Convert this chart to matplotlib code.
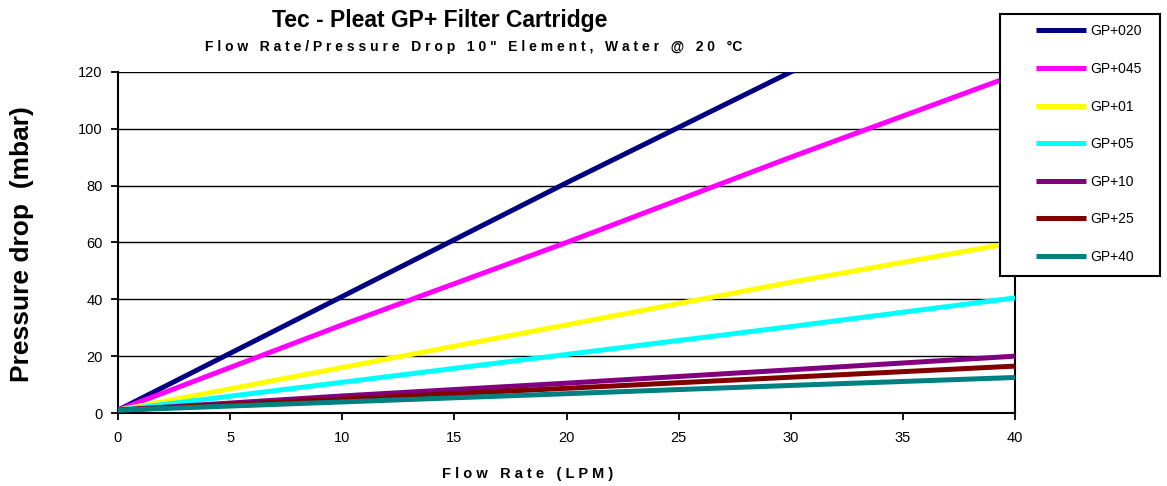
import matplotlib
matplotlib.use('Agg')
import matplotlib.pyplot as plt
from matplotlib.patches import Rectangle

plt.rcParams['font.family'] = ['Liberation Sans', 'DejaVu Sans']

# flow rate in LPM and pressure drop in mbar per grade
flow = [0, 10, 20, 30, 40]
series = {
    'GP+020': [1, 41, 81, 120, 160],
    'GP+045': [1, 31, 60, 90, 119],
    'GP+01': [1, 16, 31, 46, 60],
    'GP+05': [1, 10.8, 20.6, 30.4, 40.5],
    'GP+10': [1, 6, 10.5, 15.2, 20],
    'GP+25': [1, 4.9, 8.7, 12.6, 16.5],
    'GP+40': [1, 3.9, 6.8, 9.7, 12.5],
}
colours = ['#000080', '#FF00FF', '#FFFF00', '#00FFFF', '#800080', '#800000', '#008080']
x_ticks = [0, 5, 10, 15, 20, 25, 30, 35, 40]
y_ticks = [0, 20, 40, 60, 80, 100, 120]

fig = plt.figure(figsize=(11.67, 4.86), dpi=100)
ax = fig.add_axes([0.1011, 0.1502, 0.7687, 0.7017])

for (name, vals), c in zip(series.items(), colours):
    ax.plot(flow, vals, color=c, lw=3.6, label=name, solid_capstyle='butt', zorder=3)

ax.set_xlim(0, 40)
ax.set_ylim(0, 120)
ax.set_xticks(x_ticks)
ax.set_yticks(y_ticks)
ax.grid(axis='y', color='black', lw=1)
ax.set_axisbelow(True)
for s in ax.spines.values():
    s.set_linewidth(1.5)
ax.spines['top'].set_visible(False)
ax.tick_params(direction='out', length=5, width=1.3, labelsize=10.5, pad=6)
ax.tick_params(axis='x', pad=8)

fig.text(0.452, 0.025, 'F l o w   R a t e   ( L P M )', ha='center', va='center',
         fontsize=10.5, fontweight='bold')
fig.text(0.019, 0.498, 'Pressure drop  (mbar)', ha='center', va='center',
         rotation=90, fontsize=19, fontweight='bold')

fig.text(0.377, 0.957, 'Tec - Pleat GP+ Filter Cartridge', ha='center', va='center',
         fontsize=16.5, fontweight='bold')
fig.text(0.406, 0.903, 'F l o w   R a t e / P r e s s u r e   D r o p   1 0 "   E l e m e n t ,   W a t e r   @   2 0   \u00b0C',
         ha='center', va='center', fontsize=10, fontweight='bold')

# legend box
fig.patches.append(Rectangle((0.8569, 0.4321), 0.1371, 0.539, transform=fig.transFigure,
                             facecolor='white', edgecolor='black', lw=1.5, zorder=4))
leg = fig.legend(loc='upper left', bbox_to_anchor=(0.8877, 0.950), frameon=False,
                 fontsize=10, handlelength=3.6, labelspacing=1.7, borderpad=0,
                 handletextpad=0.3, borderaxespad=0)
leg.set_zorder(5)

fig.savefig('out.png', dpi=100)
